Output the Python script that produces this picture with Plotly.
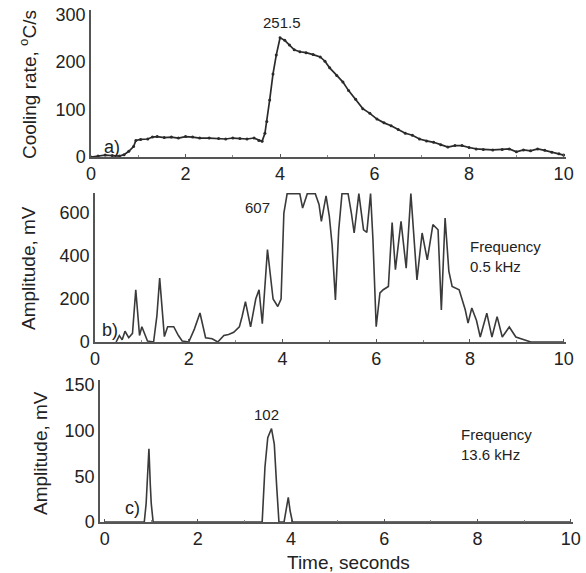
import plotly.graph_objects as go

W, H = 586, 573

# Panel a) cooling rate
t_a = [0.0, 0.15, 0.3, 0.45, 0.6, 0.7, 0.8, 0.9, 0.95, 1.05, 1.2, 1.3, 1.4, 1.55, 1.7, 1.85, 2.0, 2.15, 2.3, 2.5,
       2.7, 2.85, 3.0, 3.15, 3.3, 3.45, 3.55, 3.62, 3.68, 3.72, 3.78, 3.85, 3.92, 4.0, 4.1, 4.2, 4.3, 4.42,
       4.55, 4.7, 4.85, 4.95, 5.05, 5.2, 5.33, 5.45, 5.6, 5.75, 5.9, 6.05, 6.2, 6.35, 6.5, 6.65, 6.8, 6.95,
       7.1, 7.25, 7.4, 7.55, 7.7, 7.85, 8.0, 8.15, 8.3, 8.5, 8.7, 8.85, 9.0, 9.15, 9.3, 9.45, 9.6, 9.75, 9.9, 10.0]
v_a = [0, 2, 4, 3, 2, 5, 12, 22, 35, 37, 38, 42, 43, 41, 42, 40, 43, 42, 40, 40,
       39, 38, 40, 39, 38, 40, 35, 33, 50, 75, 120, 175, 215, 251.5, 246, 236, 226, 222,
       220, 216, 211, 202, 188, 172, 158, 140, 122, 102, 92, 80, 72, 66, 58, 50, 46, 38,
       34, 31, 26, 21, 24, 24, 20, 17, 16, 15, 16, 17, 11, 15, 13, 17, 14, 10, 7, 4]

# Panel b) amplitude, 0.5 kHz
t_b = [0.45, 0.52, 0.58, 0.64, 0.72, 0.8, 0.87, 0.95, 1.0, 1.06, 1.12, 1.25, 1.32, 1.38, 1.48, 1.55, 1.68, 1.78, 1.86,
       2.0, 2.12, 2.24, 2.36, 2.5, 2.62, 2.75, 2.85, 2.96, 3.08, 3.14, 3.21, 3.32, 3.43, 3.5, 3.57, 3.68, 3.8, 3.9, 3.97,
       4.03, 4.1, 4.2, 4.3, 4.37, 4.43, 4.53, 4.62, 4.7, 4.78, 4.83, 4.93, 5.0, 5.06, 5.13, 5.2, 5.27, 5.34, 5.4, 5.47,
       5.53, 5.63, 5.68, 5.73, 5.8, 5.88, 5.93, 6.0, 6.08, 6.15, 6.26, 6.34, 6.41, 6.53, 6.64, 6.74, 6.87, 6.98, 7.09,
       7.21, 7.32, 7.39, 7.47, 7.55, 7.62, 7.77, 7.9, 7.96, 8.04, 8.14, 8.22, 8.36, 8.47, 8.58, 8.69, 8.84, 8.98,
       9.1, 9.2, 9.3, 10.0]
v_b = [0, 30, 10, 50, 20, 40, 243, 30, 71, 40, 5, 0, 120, 297, 25, 71, 71, 30, 5,
       0, 60, 135, 20, 15, 0, 30, 35, 45, 70, 120, 188, 70, 200, 243, 85, 430, 200, 165, 200,
       600, 690, 690, 690, 690, 623, 690, 690, 690, 640, 561, 680, 584, 450, 196, 520, 690, 690, 690, 600,
       507, 690, 600, 522, 510, 690, 480, 71, 228, 243, 258, 555, 336, 561, 343, 690, 289, 507, 382,
       546, 522, 149, 577, 330, 258, 243, 150, 88, 158, 100, 23, 134, 23, 118, 23, 70, 23,
       15, 8, 0, 0]

# Panel c) amplitude, 13.6 kHz
t_c = [0.0, 0.85, 0.89, 0.92, 0.95, 0.98, 1.0, 1.04, 3.38, 3.44, 3.5, 3.58, 3.64, 3.69, 3.74, 3.85, 3.9, 3.94,
       3.98, 4.03, 10.0]
v_c = [0, 0, 20, 50, 80, 40, 20, 0, 0, 60, 92, 102, 85, 40, 0, 0, 15, 27, 12, 0, 0]

xticks = [0, 2, 4, 6, 8, 10]
yticks_a = [0, 100, 200, 300]
yticks_b = [0, 200, 400, 600]
yticks_c = [0, 50, 100, 150]

INK = "#2a2a2a"
AX = "#555555"
FONT = "Liberation Sans, Arial, sans-serif"

fig = go.Figure()
fig.add_trace(go.Scatter(x=t_a, y=v_a, mode="lines+markers", line=dict(color=INK, width=1.7),
                         marker=dict(size=3, color=INK), xaxis="x", yaxis="y", showlegend=False))
fig.add_trace(go.Scatter(x=t_b, y=v_b, mode="lines", line=dict(color="#3a3a3a", width=1.6),
                         xaxis="x2", yaxis="y2", showlegend=False))
fig.add_trace(go.Scatter(x=t_c, y=v_c, mode="lines", line=dict(color="#3a3a3a", width=1.6),
                         xaxis="x3", yaxis="y3", showlegend=False))


def px_x(a, b):
    return [a / W, b / W]


def px_y(top, bottom):
    return [1 - bottom / H, 1 - top / H]


def xax(domain, rng, anchor):
    return dict(domain=domain, range=rng, anchor=anchor, tickvals=xticks, showline=True, linecolor=AX,
                linewidth=1.5, showgrid=False, zeroline=False, ticks="inside", ticklen=3, tickcolor=AX,
                automargin=False, tickfont=dict(size=18, color="#222"),
                minor=dict(dtick=1, ticks="inside", ticklen=2, tickcolor="#888"))


def yax(domain, rng, anchor, tv):
    return dict(domain=domain, range=rng, anchor=anchor, tickvals=tv, showline=True, linecolor=AX,
                linewidth=1.5, showgrid=False, zeroline=False, ticks="", automargin=False,
                tickfont=dict(size=18, color="#222"))


fig.update_layout(
    template="none",
    width=W, height=H, margin=dict(l=0, r=0, t=0, b=0, autoexpand=False),
    paper_bgcolor="white", plot_bgcolor="white",
    font=dict(family=FONT, color="#222"),
    xaxis=xax(px_x(91, 566), [0, 10.05], "y"),
    yaxis=yax(px_y(10, 157), [0, 310], "x", yticks_a),
    xaxis2=xax(px_x(95, 566), [0, 10.05], "y2"),
    yaxis2=yax(px_y(193, 342), [0, 693], "x2", yticks_b),
    xaxis3=xax(px_x(100, 573), [-0.1, 10.05], "y3"),
    yaxis3=yax(px_y(380, 522), [0, 155], "x3", yticks_c),
)

C = dict(xanchor="center", yanchor="middle", showarrow=False)
ann = [
    dict(text="251.5", x=4.05, y=283, xref="x", yref="y", font=dict(size=15), **C),
    dict(text="a)", x=0.45, y=22, xref="x", yref="y", font=dict(size=18), **C),
    dict(text="607", x=3.47, y=625, xref="x2", yref="y2", font=dict(size=15), **C),
    dict(text="b)", x=0.33, y=55, xref="x2", yref="y2", font=dict(size=18), **C),
    dict(text="Frequency<br>0.5 kHz", x=7.95, y=400, xref="x2", yref="y2", xanchor="left", yanchor="middle",
         align="left", font=dict(size=15), showarrow=False),
    dict(text="102", x=3.47, y=117, xref="x3", yref="y3", font=dict(size=15), **C),
    dict(text="c)", x=0.6, y=15, xref="x3", yref="y3", font=dict(size=18), **C),
    dict(text="Frequency<br>13.6 kHz", x=7.6, y=85, xref="x3", yref="y3", xanchor="left", yanchor="middle",
         align="left", font=dict(size=15), showarrow=False),
    dict(text="Cooling rate, <sup>o</sup>C/s", x=28 / W, y=1 - 85 / H, xref="paper", yref="paper",
         textangle=-90, font=dict(size=19), **C),
    dict(text="Amplitude, mV", x=28 / W, y=1 - 268 / H, xref="paper", yref="paper",
         textangle=-90, font=dict(size=19), **C),
    dict(text="Amplitude, mV", x=40 / W, y=1 - 453 / H, xref="paper", yref="paper",
         textangle=-90, font=dict(size=19), **C),
    dict(text="Time, seconds", x=348 / W, y=1 - 562 / H, xref="paper", yref="paper",
         font=dict(size=19), **C),
]
fig.update_layout(annotations=ann)

fig.write_html("out.html", config={"displayModeBar": False},
               post_script="document.body.style.margin='0px';document.body.style.overflow='hidden';")
